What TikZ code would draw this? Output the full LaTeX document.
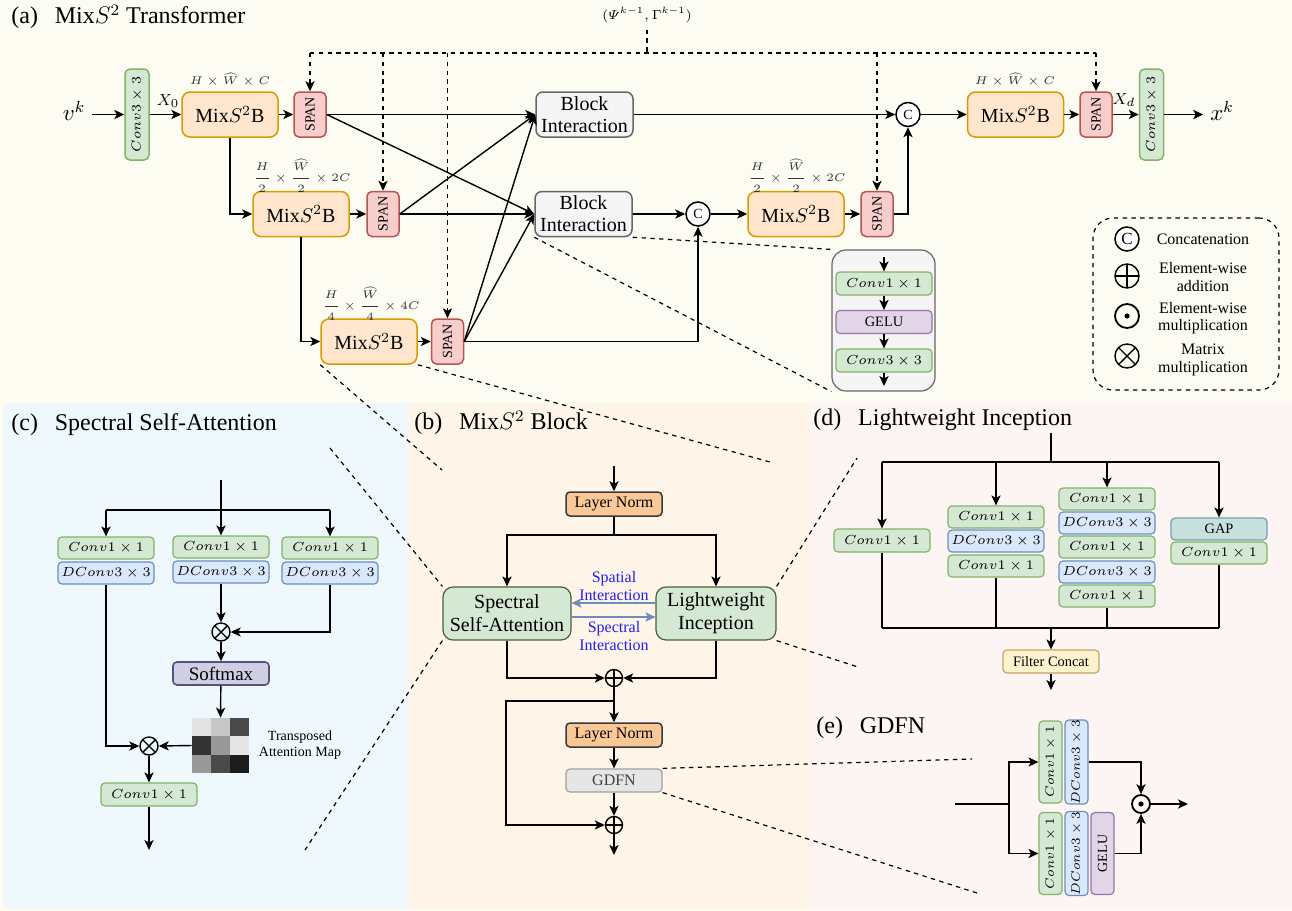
\RequirePackage{fix-cm}
\documentclass[tikz,border=0pt]{standalone}
\usepackage{amsmath}
\usepackage{fontspec}
\setmainfont{Liberation Serif}
\usetikzlibrary{arrows.meta,calc}
\definecolor{bgA}{HTML}{FCFCF2}
\definecolor{bgC}{HTML}{EFF8FC}
\definecolor{bgB}{HTML}{FEF4E7}
\definecolor{bgD}{HTML}{FDF5F3}
\definecolor{grf}{HTML}{D5E8D4}
\definecolor{grd}{HTML}{82B366}
\definecolor{blf}{HTML}{DAE8FC}
\definecolor{bld}{HTML}{6C8EBF}
\definecolor{orf}{HTML}{FFE6CC}
\definecolor{ord}{HTML}{D79B00}
\definecolor{rdf}{HTML}{F8CECC}
\definecolor{rdd}{HTML}{B85450}
\definecolor{gyf}{HTML}{F5F5F5}
\definecolor{gyd}{HTML}{666666}
\definecolor{puf}{HTML}{E1D5E7}
\definecolor{pud}{HTML}{9673A6}
\definecolor{smf}{HTML}{D0CEE2}
\definecolor{smd}{HTML}{56517E}
\definecolor{lnf}{HTML}{FAC796}
\definecolor{lnd}{HTML}{36393D}
\definecolor{gdf}{HTML}{E6E6E6}
\definecolor{gdd}{HTML}{A0A0A0}
\definecolor{gapf}{HTML}{C8E0DE}
\definecolor{gapd}{HTML}{6FA3AD}
\definecolor{fcf}{HTML}{FFF2CC}
\definecolor{fcd}{HTML}{BFA66A}
\definecolor{ibl}{HTML}{2020F0}
\begin{document}
\begin{tikzpicture}[x=0.5pt,y=-0.5pt,
  >={Stealth[length=5pt,width=4.6pt,inset=1.3pt]},
  base/.style={draw, line width=0.6pt, inner sep=0pt, align=center},
  sbox/.style={base, rounded corners=2pt, minimum width=48pt, minimum height=11pt, font=\fontsize{6.6}{8}\selectfont},
  gbox/.style={sbox, fill=grf, draw=grd},
  bbox/.style={sbox, fill=blf, draw=bld},
  pbox/.style={sbox, fill=puf, draw=pud, font=\fontsize{7.2}{9}\selectfont},
  gapbox/.style={sbox, fill=gapf, draw=gapd, font=\fontsize{7.2}{9}\selectfont},
  vbox/.style={base, rounded corners=2pt, minimum width=11.5pt, minimum height=41pt, font=\fontsize{6.2}{7}\selectfont},
  vg/.style={vbox, fill=grf, draw=grd},
  vb/.style={vbox, fill=blf, draw=bld},
  vp/.style={vbox, fill=puf, draw=pud, font=\fontsize{7}{8}\selectfont},
  mixbox/.style={base, line width=0.75pt, fill=orf, draw=ord, rounded corners=4pt, minimum width=48pt, minimum height=22.5pt, font=\fontsize{10}{12}\selectfont},
  spanbox/.style={base, line width=0.75pt, fill=rdf, draw=rdd, rounded corners=2.5pt, minimum width=16pt, minimum height=22.5pt, font=\fontsize{7}{8}\selectfont},
  convbox/.style={base, line width=0.75pt, fill=grf, draw=grd, rounded corners=2.5pt, minimum width=12pt, minimum height=45.5pt, font=\fontsize{6.6}{8}\selectfont},
  bibox/.style={base, line width=0.75pt, fill=gyf, draw=gyd, rounded corners=3.5pt, minimum width=48.5pt, minimum height=22.5pt, font=\fontsize{10}{11}\selectfont},
  bigg/.style={base, line width=0.6pt, fill=grf, draw=black!45!grd, rounded corners=5pt, minimum height=26.5pt, font=\fontsize{10}{11.5}\selectfont},
  lnbox/.style={base, line width=0.75pt, fill=lnf, draw=lnd, rounded corners=2pt, minimum width=48pt, minimum height=12pt, font=\fontsize{8}{9}\selectfont},
  catc/.style={circle, draw, line width=0.75pt, fill=white, minimum size=12pt, inner sep=0pt, font=\fontsize{7}{8}\selectfont},
  opl/.style={circle, draw, line width=0.7pt, minimum size=#1, inner sep=0pt, path picture={\draw[line width=0.7pt] (path picture bounding box.north) -- (path picture bounding box.south) (path picture bounding box.west) -- (path picture bounding box.east);}},
  otm/.style={circle, draw, line width=0.7pt, minimum size=#1, inner sep=0pt, path picture={\draw[line width=0.7pt] (path picture bounding box.north west) -- (path picture bounding box.south east) (path picture bounding box.south west) -- (path picture bounding box.north east);}},
  odt/.style={circle, draw, line width=0.9pt, minimum size=#1, inner sep=0pt, path picture={\fill (path picture bounding box.center) circle (1.3pt);}},
  dimlab/.style={font=\fontsize{5.6}{6.5}\selectfont, text=black!80},
  ttl/.style={anchor=west, inner sep=0pt, font=\fontsize{12}{14}\selectfont},
  arr/.style={draw, line width=0.7pt, ->},
  ln/.style={draw, line width=0.7pt},
  barr/.style={draw=bld, line width=0.75pt, ->},
  dsh/.style={draw, line width=0.6pt, dash pattern=on 2.2pt off 2.2pt},
  dsha/.style={dsh, ->},
  itxt/.style={text=ibl, align=center, font=\fontsize{8}{9}\selectfont},
  legt/.style={align=center, font=\fontsize{8}{8.8}\selectfont},
]
\useasboundingbox (0,0) rectangle (1292,911);
% backgrounds
\fill[bgA] (0,0) rectangle (1292,911);
\fill[bgC] (3,403) rectangle (408,909);
\fill[bgB] (408,403) rectangle (810,909);
\fill[bgD] (810,403) rectangle (1292,909);

% ---------------- (a) ----------------
\node[ttl] (ta) at (11,17) {(a)\hspace{0.7em}Mix$S^2$ Transformer};
\node[convbox] (cv1) at (137,114.5) {\rotatebox{90}{$Conv3\times 3$}};
\node[mixbox] (m1) at (230,114.5) {Mix$S^2$B};
\node[spanbox] (s1) at (310,114.5) {\rotatebox{90}{SPAN}};
\node[bibox] (bi1) at (584.5,114.5) {Block\\Interaction};
\node[catc] (c1) at (908,114.5) {C};
\node[mixbox] (m1r) at (1015.5,114.5) {Mix$S^2$B};
\node[spanbox] (s1r) at (1096,114.5) {\rotatebox{90}{SPAN}};
\node[convbox] (cv2) at (1151.5,114.5) {\rotatebox{90}{$Conv3\times 3$}};
\node[font=\fontsize{11.5}{12}\selectfont] (vk) at (74,111) {$v^k$};
\node[font=\fontsize{11.5}{12}\selectfont] (xk) at (1222,111) {$x^k$};
\node[font=\fontsize{8}{9}\selectfont] (x0) at (168,101) {$X_0$};
\node[font=\fontsize{8}{9}\selectfont] (xd) at (1124,100) {$X_d$};
\node[dimlab] (d1l) at (230,80) {$H\times\widehat{W}\times C$};
\node[dimlab] (d1r) at (1015,80) {$H\times\widehat{W}\times C$};
\node[mixbox] (m2) at (301,214) {Mix$S^2$B};
\node[spanbox] (s2) at (383,214) {\rotatebox{90}{SPAN}};
\node[bibox] (bi2) at (583.5,214) {Block\\Interaction};
\node[catc] (c2) at (698,214) {C};
\node[mixbox] (m2r) at (796,214) {Mix$S^2$B};
\node[spanbox] (s2r) at (877,214) {\rotatebox{90}{SPAN}};
\node[dimlab] (d2l) at (302,176) {$\dfrac{H}{2}\times\dfrac{\widehat{W}}{2}\times 2C$};
\node[dimlab] (d2r) at (797,176) {$\dfrac{H}{2}\times\dfrac{\widehat{W}}{2}\times 2C$};
\node[mixbox] (m3) at (369,341.5) {Mix$S^2$B};
\node[spanbox] (s3) at (447.5,341.5) {\rotatebox{90}{SPAN}};
\node[dimlab] (d3) at (371,304) {$\dfrac{H}{4}\times\dfrac{\widehat{W}}{4}\times 4C$};
\node[font=\fontsize{6.5}{7}\selectfont] (psi) at (647,15) {$(\varPsi^{k-1},\Gamma^{k-1})$};
\coordinate (bus) at (647,53);

\draw[arr] (vk.east |- cv1.west) -- (cv1.west);
\draw[arr] (cv1) -- (m1);
\draw[arr] (m1) -- (s1);
\draw[arr] (s1) -- (bi1);
\draw[arr] (s1.east) -- (bi2.west);
\draw[arr] (s2.east) -- (bi1.west);
\draw[arr] (s2) -- (bi2);
\draw[arr] (s3.east) -- (bi1.west);
\draw[arr] (s3.east) -- (bi2.west);
\draw[arr] (bi1) -- (c1);
\draw[arr] (c1) -- (m1r);
\draw[arr] (m1r) -- (s1r);
\draw[arr] (s1r) -- (cv2);
\draw[arr] (cv2.east) -- (xk.west |- cv2.east);
\draw[arr] (m1.south) |- (m2.west);
\draw[arr] (m2.south) |- (m3.west);
\draw[arr] (m2) -- (s2);
\draw[arr] (m3) -- (s3);
\draw[arr] (bi2) -- (c2);
\draw[arr] (c2) -- (m2r);
\draw[arr] (m2r) -- (s2r);
\draw[arr] (s2r.east) -| (c1.south);
\draw[arr] (s3.east) -| (c2.south);

% dashed feed
\draw[dsh] (psi.south) -- (bus);
\draw[dsh] (s1.north |- bus) -- (s1r.north |- bus);
\draw[dsha] (s1.north |- bus) -- (s1.north);
\draw[dsha] (s2.north |- bus) -- (s2.north);
\draw[dsha] (s3.north |- bus) -- (s3.north);
\draw[dsha] (s2r.north |- bus) -- (s2r.north);
\draw[dsha] (s1r.north |- bus) -- (s1r.north);

% block interaction detail
\node[base, fill=gyf, draw=gyd, rounded corners=7pt, minimum width=51.5pt, minimum height=70.5pt] (gb) at (883.5,320.5) {};
\node[gbox, minimum height=11.5pt] (g1) at (884,283.5) {$Conv1\times 1$};
\node[pbox, minimum height=11.5pt] (g2) at (884,322) {GELU};
\node[gbox, minimum height=11.5pt] (g3) at (884,360.5) {$Conv3\times 3$};
\coordinate (gin) at (884,257);
\coordinate (gout) at (884,386);
\draw[arr] (gin) -- (g1);
\draw[arr] (g1) -- (g2);
\draw[arr] (g2) -- (g3);
\draw[arr] (g3) -- (gout);
\draw[dsh] (bi2.south east) -- (gb.north west);
\draw[dsh] (bi2.south west) -- (gb.south west);

% legend
\node[dsh, rounded corners=10pt, minimum width=93pt, minimum height=86pt] (leg) at (1186,304) {};
\node[catc, minimum size=12pt, font=\fontsize{8.5}{9}\selectfont] (lc) at (1127,239) {C};
\node[opl=12pt] (lp) at (1127,276) {};
\node[odt=12pt] (ld) at (1127,316) {};
\node[otm=12pt] (lx) at (1127,356) {};
\node[legt] (lct) at (1203,239) {Concatenation};
\node[legt] (lpt) at (1203,277) {Element-wise\\addition};
\node[legt] (ldt) at (1203,318) {Element-wise\\multiplication};
\node[legt] (lxt) at (1203,360) {Matrix\\multiplication};

% ---------------- (c) ----------------
\node[ttl] (tc) at (11,425) {(c)\hspace{0.7em}Spectral Self-Attention};
\node[gbox] (cl1) at (106,548) {$Conv1\times 1$};
\node[bbox] (cl2) at (106,573) {$DConv3\times 3$};
\node[gbox] (cm1) at (221,547) {$Conv1\times 1$};
\node[bbox] (cm2) at (221,572) {$DConv3\times 3$};
\node[gbox] (cr1) at (330,548) {$Conv1\times 1$};
\node[bbox] (cr2) at (330,573) {$DConv3\times 3$};
\node[otm=9pt] (mm1) at (221,632) {};
\node[base, fill=smf, draw=smd, line width=0.8pt, rounded corners=2pt, minimum width=48pt, minimum height=11.5pt, font=\fontsize{9.5}{10}\selectfont] (soft) at (221,673.5) {Softmax};
\fill[black!11] (192,718) rectangle ++(19,18.33);
\fill[black!22] (211,718) rectangle ++(19,18.33);
\fill[black!71] (230,718) rectangle ++(19,18.33);
\fill[black!80] (192,736.33) rectangle ++(19,18.33);
\fill[black!40] (211,736.33) rectangle ++(19,18.33);
\fill[black!10] (230,736.33) rectangle ++(19,18.33);
\fill[black!40] (192,754.67) rectangle ++(19,18.33);
\fill[black!71] (211,754.67) rectangle ++(19,18.33);
\fill[black!89] (230,754.67) rectangle ++(19,18.33);
\node[minimum width=28.5pt, minimum height=27.5pt, inner sep=0pt] (amap) at (220.5,745.5) {};
\node[align=center, font=\fontsize{7}{8}\selectfont] (amt) at (300,745) {Transposed\\Attention Map};
\node[otm=9pt] (mm2) at (149,746) {};
\node[gbox, minimum height=11.5pt] (cout) at (149,794.5) {$Conv1\times 1$};
\coordinate (cin) at (221,480);
\coordinate (cbus) at (221,510);
\coordinate (cend) at (149,850);
\draw[ln] (cin) -- (cbus);
\draw[ln] (cl1.north |- cbus) -- (cr1.north |- cbus);
\draw[arr] (cl1.north |- cbus) -- (cl1.north);
\draw[arr] (cbus) -- (cm1.north);
\draw[arr] (cr1.north |- cbus) -- (cr1.north);
\draw[arr] (cm2) -- (mm1);
\draw[arr] (cr2.south) |- (mm1.east);
\draw[arr] (mm1) -- (soft);
\draw[arr] (soft) -- (amap.north);
\draw[arr] (amap.west) -- (mm2.east);
\draw[arr] (cl2.south) |- (mm2.west);
\draw[arr] (mm2) -- (cout);
\draw[arr] (cout) -- (cend);

% ---------------- (b) ----------------
\node[ttl] (tb) at (414,423) {(b)\hspace{0.7em}Mix$S^2$ Block};
\node[lnbox] (ln1) at (614,504) {Layer Norm};
\node[bigg, minimum width=64pt] (ssa) at (507,613.5) {Spectral\\Self-Attention};
\node[bigg, minimum width=60pt] (li) at (716,613.5) {Lightweight\\Inception};
\node[opl=8.5pt] (pl1) at (614,678) {};
\node[lnbox] (ln2) at (614,735) {Layer Norm};
\node[base, fill=gdf, draw=gdd, rounded corners=2pt, minimum width=48pt, minimum height=11.5pt, font=\fontsize{8}{9}\selectfont, text=black!75] (gdfn) at (614,780.5) {GDFN};
\node[opl=8.5pt] (pl2) at (614,825) {};
\node[itxt] (sp1) at (614,586) {Spatial\\Interaction};
\node[itxt] (sp2) at (614,636) {Spectral\\Interaction};
\coordinate (bin) at (614,466);
\coordinate (bbus) at (614,535);
\coordinate (bsk) at (614,701);
\coordinate (bskl) at (506,701);
\coordinate (bend) at (614,855);
\draw[arr] (bin) -- (ln1);
\draw[ln] (ln1) -- (bbus);
\draw[arr] (bbus) -| (ssa.north);
\draw[arr] (bbus) -| (li.north);
\draw[barr] ([yshift=5.25pt]li.west) -- ([yshift=5.25pt]ssa.east);
\draw[barr] ([yshift=-1.75pt]ssa.east) -- ([yshift=-1.75pt]li.west);
\draw[arr] (ssa.south) |- (pl1.west);
\draw[arr] (li.south) |- (pl1.east);
\draw[arr] (pl1) -- (ln2);
\draw[arr] (bsk) -- (bskl) |- (pl2.west);
\draw[arr] (ln2) -- (gdfn);
\draw[arr] (gdfn) -- (pl2);
\draw[arr] (pl2) -- (bend);

% ---------------- (d) ----------------
\node[ttl] (td) at (813,420) {(d)\hspace{0.7em}Lightweight Inception};
\node[gbox, minimum height=11.5pt] (d1) at (882,540.5) {$Conv1\times 1$};
\node[gbox] (d2a) at (996,517) {$Conv1\times 1$};
\node[bbox] (d2b) at (996,541) {$DConv3\times 3$};
\node[gbox] (d2c) at (996,566) {$Conv1\times 1$};
\node[gbox] (d3a) at (1107,499) {$Conv1\times 1$};
\node[bbox] (d3b) at (1107,523) {$DConv3\times 3$};
\node[gbox] (d3c) at (1107,547) {$Conv1\times 1$};
\node[bbox] (d3d) at (1107,572) {$DConv3\times 3$};
\node[gbox] (d3e) at (1107,596) {$Conv1\times 1$};
\node[gapbox] (d4a) at (1219,529) {GAP};
\node[gbox] (d4b) at (1219,553) {$Conv1\times 1$};
\node[base, fill=fcf, draw=fcd, rounded corners=2pt, minimum width=48pt, minimum height=11.5pt, font=\fontsize{7.2}{8}\selectfont] (fc) at (1051,661.5) {Filter Concat};
\coordinate (din) at (1051,433);
\coordinate (dbus) at (1051,462);
\coordinate (dbot) at (1051,628);
\coordinate (dout) at (1051,690);
\draw[ln] (din) -- (dbus);
\draw[ln] (d1.north |- dbus) -- (d4a.north |- dbus);
\draw[arr] (d1.north |- dbus) -- (d1.north);
\draw[arr] (d2a.north |- dbus) -- (d2a.north);
\draw[arr] (d3a.north |- dbus) -- (d3a.north);
\draw[arr] (d4a.north |- dbus) -- (d4a.north);
\draw[ln] (d1.south) -- (d1.south |- dbot);
\draw[ln] (d2c.south) -- (d2c.south |- dbot);
\draw[ln] (d3e.south) -- (d3e.south |- dbot);
\draw[ln] (d4b.south) -- (d4b.south |- dbot);
\draw[ln] (d1.south |- dbot) -- (d4b.south |- dbot);
\draw[arr] (dbot) -- (fc);
\draw[arr] (fc) -- (dout);

% ---------------- (e) ----------------
\node[ttl] (te) at (816,728) {(e)\hspace{0.7em}GDFN};
\node[vg] (e1) at (1050.5,762) {\rotatebox{90}{$Conv1\times 1$}};
\node[vb] (e2) at (1076.5,762) {\rotatebox{90}{$DConv3\times 3$}};
\node[vg] (e3) at (1050.5,853.5) {\rotatebox{90}{$Conv1\times 1$}};
\node[vb] (e4) at (1076.5,853.5) {\rotatebox{90}{$DConv3\times 3$}};
\node[vp] (e5) at (1102.5,853.5) {\rotatebox{90}{GELU}};
\node[odt=9pt] (od) at (1141,804) {};
\coordinate (ein) at (955,804);
\coordinate (esp) at (1009,804);
\coordinate (eout) at (1188,804);
\draw[ln] (ein) -- (esp);
\draw[arr] (esp) |- (e1.west);
\draw[arr] (esp) |- (e3.west);
\draw[arr] (e2.east) -| (od.north);
\draw[arr] (e5.east) -| (od.south);
\draw[arr] (od) -- (eout);

% ---------------- zoom lines ----------------
\coordinate (zb1) at (442,470);
\coordinate (zb2) at (770,462);
\coordinate (zc1) at (330,448);
\coordinate (zc2) at (305,850);
\coordinate (zd1) at (857,458);
\coordinate (zd2) at (858,667);
\coordinate (ze1) at (972,759);
\coordinate (ze2) at (977,893);
\draw[dsh] (m3.south west) -- (zb1);
\draw[dsh] (m3.south east) -- (zb2);
\draw[dsh] (zc1) -- (ssa.north west);
\draw[dsh] (ssa.south west) -- (zc2);
\draw[dsh] (li.north east) -- (zd1);
\draw[dsh] (li.south east) -- (zd2);
\draw[dsh] (gdfn.north east) -- (ze1);
\draw[dsh] (gdfn.south east) -- (ze2);
\end{tikzpicture}
\end{document}
